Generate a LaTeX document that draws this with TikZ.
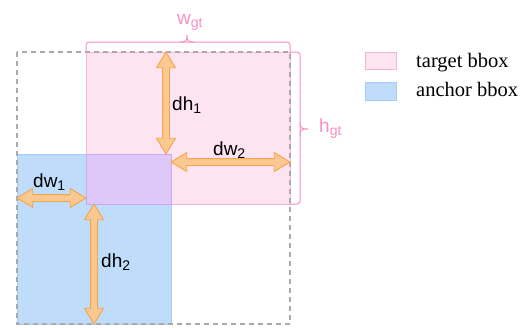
\documentclass[tikz,border=0pt]{standalone}
\usepackage{fontspec}
\setmainfont{Liberation Serif}
\newfontfamily\labfont{Liberation Sans}
\usetikzlibrary{shapes.arrows,calc}
\definecolor{pinkfill}{HTML}{FDE4F0}
\definecolor{pinkedge}{HTML}{F8B4D6}
\definecolor{pinkline}{HTML}{F78FC5}
\definecolor{bluefill}{HTML}{BFDDFA}
\definecolor{blueedge}{HTML}{A6CCF4}
\definecolor{purplefill}{HTML}{DEC8FA}
\definecolor{purpleedge}{HTML}{C6A9F2}
\definecolor{orangefill}{HTML}{FAC891}
\definecolor{orangeline}{HTML}{F5A54B}
\definecolor{dashgray}{HTML}{AAAAAA}
\newcommand\lowsub[1]{\raisebox{-3pt}{\fontsize{14}{14}\selectfont #1}}
\tikzset{
  darr/.style={double arrow, draw=orangeline, fill=orangefill, line width=0.9pt,
    inner xsep=0pt, inner ysep=3pt, double arrow head extend=6pt,
    double arrow tip angle=62, line join=miter},
  lab/.style={anchor=base west, inner sep=0pt, font=\labfont\fontsize{19}{19}\selectfont},
  plab/.style={lab, text=pinkline},
  legtext/.style={anchor=base west, inner sep=0pt, font=\fontsize{20.5}{20.5}\selectfont},
  brace/.style={draw=pinkline, line width=1pt},
}
\newcommand\darrow[2]{%
  \path let \p1=(#1), \p2=(#2), \n1={veclen(\x2-\x1,\y2-\y1)}, \n2={atan2(\y2-\y1,\x2-\x1)} in
    node[darr, minimum height=\n1, rotate=\n2] at ($(#1)!0.5!(#2)$) {};}
\begin{document}
\begin{tikzpicture}[x=1pt,y=-1pt]
\useasboundingbox (0,0) rectangle (530,327);
% boxes
\fill[bluefill] (17,154) rectangle (171,324);
\draw[blueedge, line width=0.6pt] (17,154) rectangle (171,324);
\fill[pinkfill] (86,52) rectangle (290,204);
\draw[pinkedge, line width=0.8pt] (86,52) rectangle (290,204);
\filldraw[fill=purplefill, draw=purpleedge, line width=1pt] (86,154) rectangle (171,204);
% dashed anchor region
\draw[dashgray, line width=1.3pt, dash pattern=on 5pt off 4pt] (17,52) rectangle (290,324);
% braces
\draw[brace, rounded corners=3pt] (86,53) -- (86,42) -- (290,42) -- (290,53);
\draw[brace] (180,42) .. controls (186,42) and (187,41) .. (187,35)
             .. controls (187,41) and (188,42) .. (194,42);
\draw[brace, rounded corners=3pt] (290,52) -- (300,52) -- (300,204) -- (289,204);
\draw[brace] (300,122) .. controls (300,128) and (301,129) .. (308,129)
             .. controls (301,129) and (300,130) .. (300,136);
\node[plab] (wgt) at (177,24) {w\lowsub{gt}};
\node[plab] (hgt) at (319,132) {h\lowsub{gt}};
% arrow endpoints
\coordinate (dh1a) at (166,52);
\coordinate (dh1b) at (166,154);
\coordinate (dw2a) at (171,162);
\coordinate (dw2b) at (290,162);
\coordinate (dw1a) at (17,198);
\coordinate (dw1b) at (86,198);
\coordinate (dh2a) at (94,204);
\coordinate (dh2b) at (94,324);
\darrow{dh1a}{dh1b}
\darrow{dw2a}{dw2b}
\darrow{dw1a}{dw1b}
\darrow{dh2a}{dh2b}
\node[lab] (ldh1) at (172,110) {dh\lowsub{1}};
\node[lab] (ldw2) at (213,155) {dw\lowsub{2}};
\node[lab] (ldw1) at (33,187) {dw\lowsub{1}};
\node[lab] (ldh2) at (101,267) {dh\lowsub{2}};
% legend
\node[draw=pinkedge, fill=pinkfill, line width=0.8pt, minimum width=31pt, minimum height=17pt, inner sep=0pt] (legp) at (380.5,60.5) {};
\node[draw=blueedge, fill=bluefill, line width=0.8pt, minimum width=31pt, minimum height=18pt, inner sep=0pt] (legb) at (380.5,91) {};
\node[legtext] (legpt) at (416,67) {target bbox};
\node[legtext] (legbt) at (416,96) {anchor bbox};
\end{tikzpicture}
\end{document}
